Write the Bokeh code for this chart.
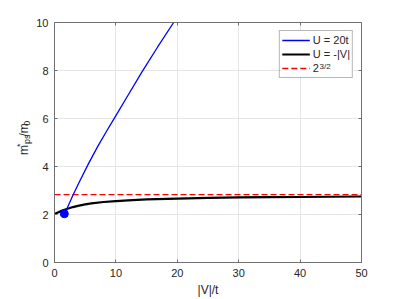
import math
from bokeh.plotting import figure
from bokeh.layouts import row
from bokeh.models import Range1d, LinearAxis, Legend, LegendItem, Label, FixedTicker, BoxAnnotation
from bokeh.core.properties import value
from bokeh.embed import file_html
from bokeh.resources import INLINE

# ---- data ----
x_ticks = [0, 10, 20, 30, 40, 50]
y_ticks = [0, 2, 4, 6, 8, 10]

v_black = [0, 1, 2, 3, 4, 5, 6, 8, 10, 12, 15, 20, 25, 30, 35, 40, 45, 50]
m_black = [2.02, 2.14, 2.23, 2.31, 2.37, 2.42, 2.46, 2.52, 2.56, 2.59, 2.63, 2.66, 2.69, 2.71, 2.72, 2.73, 2.74, 2.75]

v_blue = [1.9, 3.0, 4.0, 5.5, 7.0, 8.5, 10.0, 12.0, 14.2, 16.8, 19.4]
m_blue = [2.17, 2.80, 3.33, 4.10, 4.82, 5.48, 6.12, 6.98, 7.92, 8.98, 10.00]

v_dot = [1.6]
m_dot = [2.03]

v_ref = [0, 50]
m_ref = [2.828, 2.828]

x_title = "|V|/t"
y_title_main = ["m", "/m"]
y_title_small = ["*", "ps", "0"]
legend_labels = ["U = 20t", "U = -|V|", "2"]
legend_sup = "3/2"

FONT = "Liberation Sans"
TXT = "#262626"
AX = "#707070"

H = 299
LW = 33            # width of the strip carrying the y title
W = 399 - LW
L, R, T, B = 19, 38, 22, 37
FRAME_LEFT_PAGE = LW + L

# ---- main plot ----
p = figure(width=W, height=H, x_range=Range1d(0, 50), y_range=Range1d(0, 10),
           output_backend="svg", toolbar_location=None,
           min_border_left=L, min_border_right=R, min_border_top=T, min_border_bottom=B)
p.outline_line_color = None
p.background_fill_color = "white"

def style_axis(ax, show_labels=True):
    ax.axis_line_color = AX
    ax.major_tick_line_color = AX
    ax.major_tick_in = 3
    ax.major_tick_out = 0
    ax.minor_tick_line_color = None
    ax.major_label_text_font = FONT
    ax.major_label_text_font_size = "11px"
    ax.major_label_text_color = TXT
    if not show_labels:
        ax.major_label_text_alpha = 0
        ax.major_label_text_font_size = "1px"

p.xaxis.ticker = FixedTicker(ticks=x_ticks)
p.yaxis.ticker = FixedTicker(ticks=y_ticks)
style_axis(p.xaxis[0])
style_axis(p.yaxis[0])
p.xaxis.major_label_standoff = 6
p.yaxis.major_label_standoff = 6
p.xaxis.axis_label = x_title
p.xaxis.axis_label_text_font = FONT
p.xaxis.axis_label_text_font_size = "12px"
p.xaxis.axis_label_text_font_style = "normal"
p.xaxis.axis_label_text_color = TXT
p.xaxis.axis_label_standoff = 3

top = LinearAxis(ticker=FixedTicker(ticks=x_ticks))
right = LinearAxis(ticker=FixedTicker(ticks=y_ticks))
style_axis(top, False)
style_axis(right, False)
p.add_layout(top, "above")
p.add_layout(right, "right")

p.xgrid.ticker = FixedTicker(ticks=x_ticks)
p.ygrid.ticker = FixedTicker(ticks=y_ticks)
p.grid.grid_line_color = "#e6e6e6"
p.grid.grid_line_width = 1

r_red = p.line(v_ref, m_ref, line_color="#ff0000", line_width=1.3, line_dash="6 3")
r_black = p.line(v_black, m_black, line_color="black", line_width=2.2)
r_blue = p.line(v_blue, m_blue, line_color="#0000ff", line_width=1.3)
p.scatter(v_dot, m_dot, size=8, fill_color="#0000ff", line_color="#0000ff")

# page pixel -> data coordinates (for in-frame annotations)
def dx(px):
    return (px - FRAME_LEFT_PAGE) / (399 - FRAME_LEFT_PAGE - R) * 50.0
def dy(py):
    return (H - B - py) / (H - T - B) * 10.0

# opaque white backing behind a transparent legend, so the superscript can sit on top
p.add_layout(BoxAnnotation(left=dx(280.5), right=dx(353), top=dy(30), bottom=dy(76),
                           fill_color="white", fill_alpha=1, line_color=None, level="annotation"))

legend = Legend(items=[LegendItem(label=legend_labels[0], renderers=[r_blue]),
                       LegendItem(label=legend_labels[1], renderers=[r_black]),
                       LegendItem(label=legend_labels[2], renderers=[r_red])],
                location="top_right", margin=8, padding=2, spacing=0,
                glyph_width=28, glyph_height=14, label_height=14, label_standoff=3,
                label_text_font=FONT, label_text_font_size="11px", label_text_color=TXT,
                border_line_color=AX, background_fill_alpha=0)
p.add_layout(legend)

p.add_layout(Label(x=dx(318.8), y=dy(65.5), text=legend_sup, text_font=FONT, text_font_size="8px",
                   text_color=TXT, text_align="left", text_baseline="alphabetic",
                   level="overlay"))

# ---- strip holding the rotated y title m*_ps/m_0 (data units = page pixels) ----
lab = figure(width=LW, height=H, x_range=Range1d(0, LW), y_range=Range1d(H, 0),
             output_backend="svg", toolbar_location=None,
             x_axis_type=None, y_axis_type=None,
             min_border_left=0, min_border_right=0, min_border_top=0, min_border_bottom=0)
lab.outline_line_color = None
lab.background_fill_color = "white"
lab.border_fill_color = "white"
rot = math.pi / 2
lab.text(x=[23.7, 23.7], y=[165.0, 142.0], text=y_title_main, angle=rot,
         text_font=value(FONT), text_font_size="12px", text_color=TXT,
         text_align="left", text_baseline="alphabetic")
lab.text(x=[19.8, 26.8, 26.8], y=[155.0, 151.5, 128.7], text=y_title_small, angle=rot,
         text_font=value(FONT), text_font_size="9px", text_color=TXT,
         text_align="left", text_baseline="alphabetic")

layout = row(lab, p, spacing=0)
open("out.html", "w").write(file_html(layout, INLINE))
